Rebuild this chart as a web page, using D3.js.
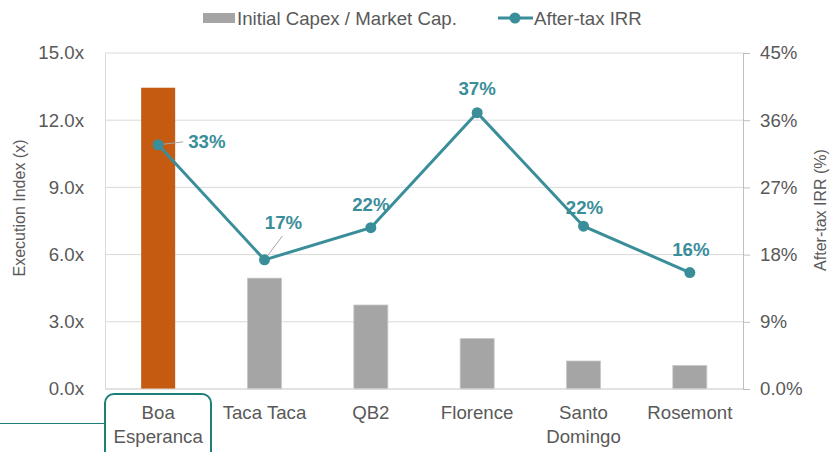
<!DOCTYPE html>
<html>
<head>
<meta charset="utf-8">
<script src="https://cdn.jsdelivr.net/npm/d3@7"></script>
<style>
  body { margin: 0; background: #fff; }
  svg { display: block; font-family: "Liberation Sans", Arial, sans-serif; }
  .tick text { fill: #595959; font-size: 18.67px; }
</style>
</head>
<body>
<svg id="chart" width="838" height="452"></svg>
<script>
// chart data
const categories = ['Boa Esperanca', 'Taca Taca', 'QB2', 'Florence', 'Santo Domingo', 'Rosemont'];
const categoryLines = [['Boa', 'Esperanca'], ['Taca Taca'], ['QB2'], ['Florence'], ['Santo', 'Domingo'], ['Rosemont']];
const capexRatio = [13.45, 4.95, 3.75, 2.25, 1.25, 1.05];
const irr = [32.7, 17.3, 21.6, 37.0, 21.8, 15.6];
const irrLabels = ['33%', '17%', '22%', '37%', '22%', '16%'];
const leftTicks = [0, 3, 6, 9, 12, 15];
const leftTickLabels = ['0.0x', '3.0x', '6.0x', '9.0x', '12.0x', '15.0x'];
const rightTicks = [0, 9, 18, 27, 36, 45];
const rightTickLabels = ['0.0%', '9%', '18%', '27%', '36%', '45%'];
const highlight = 'Boa Esperanca';

// layout
const plot = { left: 105, right: 743, top: 53, bottom: 389 };
const teal = '#3A8E9A';
const orange = '#C55A11';
const grey = '#A5A5A5';
const grid = '#D9D9D9';
const textCol = '#595959';

const svg = d3.select('#chart');

const x = d3.scaleBand().domain(categories).range([plot.left, plot.right]);
const yL = d3.scaleLinear().domain([0, 15]).range([plot.bottom, plot.top]);
const yR = d3.scaleLinear().domain([0, 45]).range([plot.bottom, plot.top]);
const cx = d => x(d) + x.bandwidth() / 2;
const barW = 34;

// gridlines
svg.append('g').selectAll('line').data(leftTicks).join('line')
  .attr('x1', plot.left).attr('x2', plot.right)
  .attr('y1', d => yL(d)).attr('y2', d => yL(d))
  .attr('stroke', grid).attr('stroke-width', 1);

// left axis
const gL = svg.append('g').attr('transform', `translate(${plot.left},0)`)
  .call(d3.axisLeft(yL).tickValues(leftTicks).tickSize(0).tickPadding(21)
    .tickFormat((d, i) => leftTickLabels[i]));
gL.select('.domain').attr('stroke', grid);

// right axis
const gR = svg.append('g').attr('transform', `translate(${plot.right},0)`)
  .call(d3.axisRight(yR).tickValues(rightTicks).tickSizeOuter(0).tickSizeInner(7).tickPadding(10)
    .tickFormat((d, i) => rightTickLabels[i]));
gR.select('.domain').attr('stroke', '#BFBFBF');
gR.selectAll('.tick line').attr('stroke', '#BFBFBF');

// bars
svg.append('g').selectAll('rect').data(categories).join('rect')
  .attr('x', d => cx(d) - barW / 2)
  .attr('width', barW)
  .attr('y', (d, i) => yL(capexRatio[i]))
  .attr('height', (d, i) => plot.bottom - yL(capexRatio[i]))
  .attr('fill', d => d === highlight ? orange : grey)
  .attr('stroke', d => d === highlight ? 'none' : '#C8C8C8')
  .attr('stroke-width', 0.8);

// baseline
svg.append('line')
  .attr('x1', plot.left).attr('x2', plot.right)
  .attr('y1', plot.bottom).attr('y2', plot.bottom)
  .attr('stroke', grid);

// IRR line
const line = d3.line().x((d, i) => cx(categories[i])).y(d => yR(d));
svg.append('path').datum(irr)
  .attr('d', line).attr('fill', 'none')
  .attr('stroke', teal).attr('stroke-width', 3);

// leader lines for 33% and 17%
const leaders = [
  { i: 0, dx: 25, dy: -3 },
  { i: 1, dx: 18, dy: -24 }
];
svg.append('g').selectAll('line').data(leaders).join('line')
  .attr('x1', d => cx(categories[d.i]))
  .attr('y1', d => yR(irr[d.i]))
  .attr('x2', d => cx(categories[d.i]) + d.dx)
  .attr('y2', d => yR(irr[d.i]) + d.dy)
  .attr('stroke', '#A6A6A6').attr('stroke-width', 1);

svg.append('g').selectAll('circle').data(irr).join('circle')
  .attr('cx', (d, i) => cx(categories[i]))
  .attr('cy', d => yR(d))
  .attr('r', 5.5)
  .attr('fill', teal);

// data labels: offset from point, anchor
const labelPos = [
  { dx: 30, dy: -3, anchor: 'start' },
  { dx: 19, dy: -37, anchor: 'middle' },
  { dx: 0, dy: -23, anchor: 'middle' },
  { dx: 0, dy: -24, anchor: 'middle' },
  { dx: 1, dy: -19, anchor: 'middle' },
  { dx: 1, dy: -23, anchor: 'middle' }
];
svg.append('g').selectAll('text').data(irrLabels).join('text')
  .attr('x', (d, i) => cx(categories[i]) + labelPos[i].dx)
  .attr('y', (d, i) => yR(irr[i]) + labelPos[i].dy)
  .attr('dy', '0.35em')
  .attr('text-anchor', (d, i) => labelPos[i].anchor)
  .attr('font-size', '18.67px').attr('font-weight', 'bold')
  .attr('fill', teal)
  .text(d => d);

// category labels
const xl = svg.append('g').selectAll('text').data(categories).join('text')
  .attr('text-anchor', 'middle')
  .attr('font-size', '18.67px')
  .attr('fill', textCol);
xl.each(function(d, i) {
  const t = d3.select(this);
  categoryLines[i].forEach((s, k) => {
    t.append('tspan').attr('x', cx(d)).attr('y', 419 + k * 24).text(s);
  });
});

// highlight box around Boa Esperanca
svg.append('line')
  .attr('x1', 0).attr('x2', 105).attr('y1', 423.5).attr('y2', 423.5)
  .attr('stroke', '#1C8079').attr('stroke-width', 1.2);
svg.append('rect')
  .attr('x', 105).attr('y', 394).attr('width', 106).attr('height', 70)
  .attr('rx', 9).attr('fill', 'none')
  .attr('stroke', '#1C8079').attr('stroke-width', 2);

// axis titles
svg.append('text')
  .attr('transform', 'translate(25,208) rotate(-90)')
  .attr('text-anchor', 'middle').attr('font-size', '16px').attr('fill', textCol)
  .text('Execution Index (x)');
svg.append('text')
  .attr('transform', 'translate(826,210) rotate(-90)')
  .attr('text-anchor', 'middle').attr('font-size', '16px').attr('fill', textCol)
  .text('After-tax IRR (%)');

// legend
const lg = svg.append('g');
lg.append('rect').attr('x', 203).attr('y', 13).attr('width', 32).attr('height', 10).attr('fill', grey);
lg.append('text').attr('x', 237).attr('y', 18).attr('dy', '0.35em')
  .attr('font-size', '18.67px').attr('fill', textCol).text('Initial Capex / Market Cap.');
lg.append('line').attr('x1', 498).attr('x2', 533).attr('y1', 18).attr('y2', 18)
  .attr('stroke', teal).attr('stroke-width', 3);
lg.append('circle').attr('cx', 515).attr('cy', 18).attr('r', 5.5).attr('fill', teal);
lg.append('text').attr('x', 534).attr('y', 18).attr('dy', '0.35em')
  .attr('font-size', '18.67px').attr('fill', textCol).text('After-tax IRR');
</script>
</body>
</html>
